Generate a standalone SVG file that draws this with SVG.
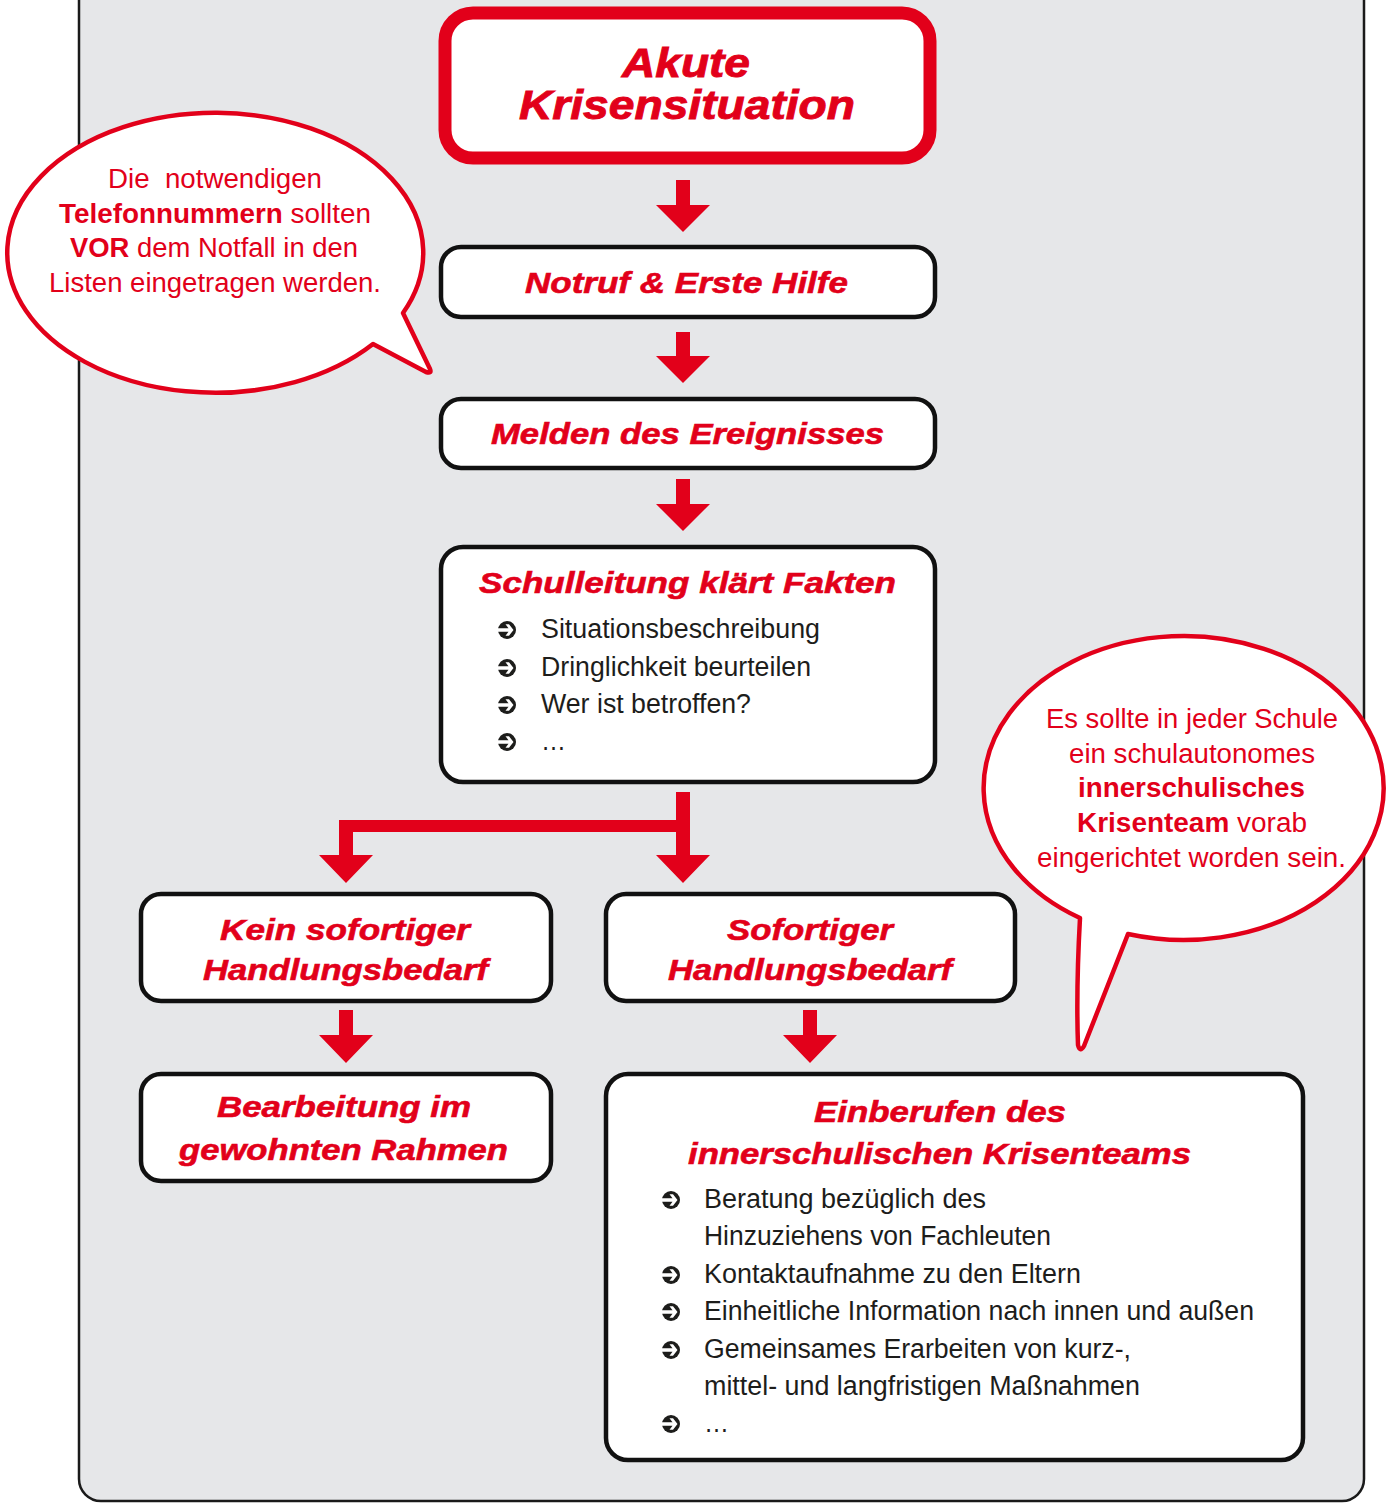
<svg xmlns="http://www.w3.org/2000/svg" xmlns:xlink="http://www.w3.org/1999/xlink" width="1388" height="1503" viewBox="0 0 1388 1503">
<style>
.panel{fill:#e6e7e9;stroke:#1a1a1a;stroke-width:2.5}
.box{fill:#fff;stroke:#111;stroke-width:4.5}
.boxred{fill:#fff;stroke:#e2001a;stroke-width:13}
.t{font-family:"Liberation Sans",Arial,sans-serif;font-weight:bold;font-style:italic;font-size:30px;fill:#e2001a;stroke:#e2001a;stroke-width:0.6}
.big{font-size:41px;stroke-width:0.9}
.b{font-family:"Liberation Sans",Arial,sans-serif;font-size:27px;fill:#1d1d1b}
.bub{fill:#fff;stroke:#e2001a;stroke-width:4.5;stroke-linejoin:round}
.bt{font-family:"Liberation Sans",Arial,sans-serif;font-size:27px;fill:#e2001a}
.bold{font-weight:bold}
.arr{fill:#e2001a}
</style>
<defs>
<g id="bullet">
<circle cx="0" cy="0" r="9" fill="#1d1d1b"/>
<polygon points="-10,-1.8 1.5,-1.8 -1.5,-5.8 2,-5.8 6.5,0 2,5.8 -1.5,5.8 1.5,1.8 -10,1.8" fill="#fff"/>
</g>
</defs>
<rect class="panel" x="79" y="-40" width="1285" height="1541" rx="22"/>

<g id="connectors">
<polygon class="arr" points="676,180 690,180 690,205 710,205 683,232 656,205 676,205"/>
<polygon class="arr" points="676,332 690,332 690,356 710,356 683,383 656,356 676,356"/>
<polygon class="arr" points="676,479 690,479 690,504 710,504 683,531 656,504 676,504"/>
<polygon class="arr" points="676,792 690,792 690,855 710,855 683,883 656,855 676,855"/>
<rect class="arr" x="339" y="820" width="344" height="12"/>
<polygon class="arr" points="339,820 353,820 353,855 373,855 346,883 319,855 339,855"/>
<polygon class="arr" points="339,1010 353,1010 353,1035 373,1035 346,1063 319,1035 339,1035"/>
<polygon class="arr" points="803,1010 817,1010 817,1035 837,1035 810,1063 783,1035 803,1035"/>
</g>

<g id="akute">
<rect class="boxred" x="445" y="13" width="485" height="145" rx="28"/>
<text class="t big" x="622" y="77" textLength="128" lengthAdjust="spacingAndGlyphs">Akute</text>
<text class="t big" x="519" y="119" textLength="336" lengthAdjust="spacingAndGlyphs">Krisensituation</text>
</g>

<g id="notruf">
<rect class="box" x="441" y="247" width="494" height="70" rx="20"/>
<text class="t" x="525" y="293" textLength="323" lengthAdjust="spacingAndGlyphs">Notruf &amp; Erste Hilfe</text>
</g>

<g id="melden">
<rect class="box" x="441" y="399" width="494" height="69" rx="20"/>
<text class="t" x="491" y="444" textLength="393" lengthAdjust="spacingAndGlyphs">Melden des Ereignisses</text>
</g>

<g id="schulleitung">
<rect class="box" x="441" y="547" width="494" height="235" rx="22"/>
<text class="t" x="479" y="593" textLength="417" lengthAdjust="spacingAndGlyphs">Schulleitung klärt Fakten</text>
<use xlink:href="#bullet" x="507" y="630"/>
<use xlink:href="#bullet" x="507" y="668"/>
<use xlink:href="#bullet" x="507" y="705"/>
<use xlink:href="#bullet" x="507" y="742"/>
<text class="b" x="541" y="638" textLength="279" lengthAdjust="spacingAndGlyphs">Situationsbeschreibung</text>
<text class="b" x="541" y="676" textLength="270" lengthAdjust="spacingAndGlyphs">Dringlichkeit beurteilen</text>
<text class="b" x="541" y="713" textLength="210" lengthAdjust="spacingAndGlyphs">Wer ist betroffen?</text>
<text class="b" x="541" y="750" textLength="25" lengthAdjust="spacingAndGlyphs">…</text>
</g>

<g id="kein">
<rect class="box" x="141" y="894" width="410" height="107" rx="20"/>
<text class="t" x="220" y="940" textLength="250" lengthAdjust="spacingAndGlyphs">Kein sofortiger</text>
<text class="t" x="203" y="980" textLength="285" lengthAdjust="spacingAndGlyphs">Handlungsbedarf</text>
</g>

<g id="sofortiger">
<rect class="box" x="606" y="894" width="409" height="107" rx="20"/>
<text class="t" x="727" y="940" textLength="166" lengthAdjust="spacingAndGlyphs">Sofortiger</text>
<text class="t" x="668" y="980" textLength="284" lengthAdjust="spacingAndGlyphs">Handlungsbedarf</text>
</g>

<g id="bearbeitung">
<rect class="box" x="141" y="1074" width="410" height="107" rx="20"/>
<text class="t" x="217" y="1117" textLength="254" lengthAdjust="spacingAndGlyphs">Bearbeitung im</text>
<text class="t" x="179" y="1160" textLength="329" lengthAdjust="spacingAndGlyphs">gewohnten Rahmen</text>
</g>

<g id="einberufen">
<rect class="box" x="606" y="1074" width="697" height="386" rx="22"/>
<text class="t" x="814" y="1122" textLength="252" lengthAdjust="spacingAndGlyphs">Einberufen des</text>
<text class="t" x="688" y="1164" textLength="503" lengthAdjust="spacingAndGlyphs">innerschulischen Krisenteams</text>
<use xlink:href="#bullet" x="671" y="1200"/>
<use xlink:href="#bullet" x="671" y="1275"/>
<use xlink:href="#bullet" x="671" y="1312"/>
<use xlink:href="#bullet" x="671" y="1350"/>
<use xlink:href="#bullet" x="671" y="1424"/>
<text class="b" x="704" y="1208" textLength="282" lengthAdjust="spacingAndGlyphs">Beratung bezüglich des</text>
<text class="b" x="704" y="1245" textLength="347" lengthAdjust="spacingAndGlyphs">Hinzuziehens von Fachleuten</text>
<text class="b" x="704" y="1283" textLength="377" lengthAdjust="spacingAndGlyphs">Kontaktaufnahme zu den Eltern</text>
<text class="b" x="704" y="1320" textLength="550" lengthAdjust="spacingAndGlyphs">Einheitliche Information nach innen und außen</text>
<text class="b" x="704" y="1358" textLength="427" lengthAdjust="spacingAndGlyphs">Gemeinsames Erarbeiten von kurz-,</text>
<text class="b" x="704" y="1395" textLength="436" lengthAdjust="spacingAndGlyphs">mittel- und langfristigen Maßnahmen</text>
<text class="b" x="704" y="1432" textLength="25" lengthAdjust="spacingAndGlyphs">…</text>
</g>

<g id="bubble-left">
<path class="bub" d="M403,313 L430,369 Q432,374 426,372 L373,344 A208,140 0 1 1 403,313 Z"/>
<text class="bt" x="108" y="188" textLength="214" lengthAdjust="spacingAndGlyphs" xml:space="preserve">Die  notwendigen</text>
<text class="bt" x="59" y="223" textLength="312" lengthAdjust="spacingAndGlyphs"><tspan class="bold">Telefonnummern</tspan> sollten</text>
<text class="bt" x="70" y="257" textLength="288" lengthAdjust="spacingAndGlyphs"><tspan class="bold">VOR</tspan> dem Notfall in den</text>
<text class="bt" x="49" y="292" textLength="332" lengthAdjust="spacingAndGlyphs">Listen eingetragen werden.</text>
</g>

<g id="bubble-right">
<path class="bub" d="M1128,934 L1084,1046 Q1080,1053 1078,1045 Q1076,990 1080,918 A200,152 0 1 1 1128,934 Z"/>
<text class="bt" x="1046" y="728" textLength="292" lengthAdjust="spacingAndGlyphs">Es sollte in jeder Schule</text>
<text class="bt" x="1069" y="763" textLength="246" lengthAdjust="spacingAndGlyphs">ein schulautonomes</text>
<text class="bt bold" x="1078" y="797" textLength="227" lengthAdjust="spacingAndGlyphs">innerschulisches</text>
<text class="bt" x="1077" y="832" textLength="230" lengthAdjust="spacingAndGlyphs"><tspan class="bold">Krisenteam</tspan> vorab</text>
<text class="bt" x="1037" y="867" textLength="309" lengthAdjust="spacingAndGlyphs">eingerichtet worden sein.</text>
</g>
</svg>
